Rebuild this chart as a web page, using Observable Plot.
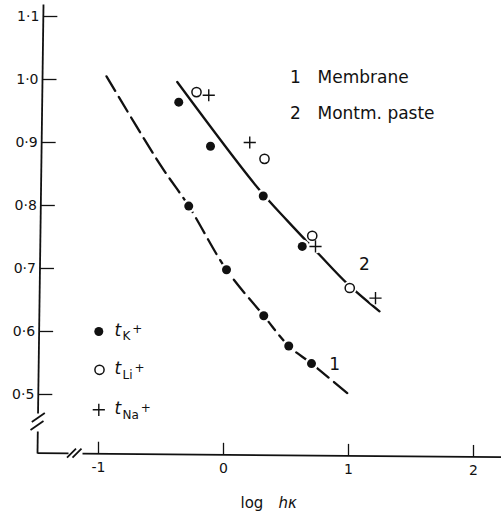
<!DOCTYPE html>
<html><head><meta charset="utf-8">
<script src="https://cdn.jsdelivr.net/npm/d3@7"></script>
<script src="https://cdn.jsdelivr.net/npm/@observablehq/plot@0.6"></script>
<style>
body{margin:0;background:#fff}
g[aria-label="legend-text"] text{letter-spacing:2px}
g[aria-label="axis-label"] text{letter-spacing:1.5px}
</style>
</head><body><div id="chart"></div>
<script>
// ---- data ----
const yTicks = [0.5, 0.6, 0.7, 0.8, 0.9, 1.0, 1.1];
const yTickLabels = ["0·5", "0·6", "0·7", "0·8", "0·9", "1·0", "1·1"];
const xTicks = [-1, 0, 1, 2];
const xTickLabels = ["-1", "0", "1", "2"];

// curve 1 (membrane, dashed) and curve 2 (montm. paste, solid)
const membraneLine = [
  {x: -0.936, y: 1.005}, {x: -0.504, y: 0.864}, {x: -0.278, y: 0.799},
  {x: 0.024, y: 0.698}, {x: 0.322, y: 0.625}, {x: 0.522, y: 0.577},
  {x: 0.704, y: 0.549}, {x: 1.016, y: 0.498}
];
const pasteLine = [
  {x: -0.370, y: 0.996}, {x: 0.270, y: 0.829}, {x: 0.510, y: 0.776},
  {x: 0.762, y: 0.723}, {x: 0.990, y: 0.676}, {x: 1.248, y: 0.632}
];

// t_K+ (filled circles)
const tKx = [-0.278, 0.024, 0.322, 0.522, 0.704, -0.358, -0.104, 0.318, 0.630];
const tKy = [0.799, 0.698, 0.625, 0.577, 0.549, 0.964, 0.894, 0.815, 0.735];
// t_Li+ (open circles)
const tLix = [-0.216, 0.328, 0.710, 1.010];
const tLiy = [0.980, 0.874, 0.752, 0.669];
// t_Na+ (plus)
const tNax = [-0.118, 0.210, 0.736, 1.216];
const tNay = [0.975, 0.900, 0.735, 0.653];

const curveLabels = [{label: "1", x: 0.89, y: 0.548}, {label: "2", x: 1.128, y: 0.706}];
const curveNames = [{num: "1", name: "Membrane"}, {num: "2", name: "Montm. paste"}];
const legendIons = ["K", "Li", "Na"];

// ---- layout ----
const W = 501, H = 515;
const xDomain = [-1.784, 2.224];
const yDomain = [0.3079, 1.1254];
const px2x = px => xDomain[0] + px * (xDomain[1] - xDomain[0]) / W;
const py2y = py => yDomain[1] - py * (yDomain[1] - yDomain[0]) / H;
const x2px = v => (v - xDomain[0]) * W / (xDomain[1] - xDomain[0]);
const y2py = v => (yDomain[1] - v) * H / (yDomain[1] - yDomain[0]);
// slight tilt of the scanned axes
const axisLeftAt = py => 43 - 6 * (py - 4) / 449;
const baseAt = px => 452.7 + (px - 37) * 4 / 464;

const zip = (xs, ys) => xs.map((x, i) => ({x, y: ys[i]}));
const K = zip(tKx, tKy), Li = zip(tLix, tLiy), Na = zip(tNax, tNay);
const allPts = [...K, ...Li, ...Na];

const ink = "#111";
const font = "DejaVu Sans, sans-serif";

const ySegs = [[4, 413], [431, 453]];
const xSegs = [[37, 68], [82, 501]];
const yBreaks = [[37.8, 417], [36.5, 425]];
const xBreaks = [[71, 452.7], [76.5, 452.7]];

// subscript widths for placing the superscript "+"
const ctx = document.createElement("canvas").getContext("2d");
ctx.font = "12px 'DejaVu Sans'";
const subW = s => ctx.measureText(s).width;

const legendRowsPy = [331, 369.3, 409.3];
const legendRows = legendIons.map((ion, i) => ({ion, py: legendRowsPy[i]}));

const chart = Plot.plot({
  width: W, height: H,
  marginLeft: 0, marginRight: 0, marginTop: 0, marginBottom: 0,
  x: {domain: xDomain, axis: null},
  y: {domain: yDomain, axis: null},
  style: {background: "#fff", fontFamily: font, color: ink},
  marks: [
    // axes
    Plot.link(ySegs, {x1: d => px2x(axisLeftAt(d[0])), y1: d => py2y(d[0]), x2: d => px2x(axisLeftAt(d[1])), y2: d => py2y(d[1]), stroke: ink, strokeWidth: 1.8}),
    Plot.link(xSegs, {x1: d => px2x(d[0]), y1: d => py2y(baseAt(d[0])), x2: d => px2x(d[1]), y2: d => py2y(baseAt(d[1])), stroke: ink, strokeWidth: 1.8}),
    Plot.link(yBreaks, {x1: d => px2x(d[0] - 6.5), y1: d => py2y(d[1] + 4.5), x2: d => px2x(d[0] + 6.5), y2: d => py2y(d[1] - 4.5), stroke: ink, strokeWidth: 1.8}),
    Plot.link(xBreaks, {x1: d => px2x(d[0] - 4.5), y1: d => py2y(d[1] + 4.5), x2: d => px2x(d[0] + 4.5), y2: d => py2y(d[1] - 4.5), stroke: ink, strokeWidth: 1.8}),
    Plot.link(yTicks, {x1: v => px2x(axisLeftAt(y2py(v))), x2: v => px2x(axisLeftAt(y2py(v)) + 14), y1: v => v, y2: v => v, stroke: ink, strokeWidth: 1.3}),
    Plot.text(yTicks, {x: v => px2x(axisLeftAt(y2py(v)) - 4), y: v => v, text: (v, i) => yTickLabels[i], textAnchor: "end", fontSize: 14, fill: ink}),
    Plot.link(xTicks, {x1: v => v, x2: v => v, y1: v => py2y(baseAt(x2px(v))), y2: v => py2y(baseAt(x2px(v)) - 12), stroke: ink, strokeWidth: 1.3}),
    Plot.text(xTicks, {x: v => v, y: v => py2y(baseAt(x2px(v)) + 14), text: (v, i) => xTickLabels[i], fontSize: 14, fill: ink}),
    Plot.text(["log"], {x: () => px2x(240), y: () => py2y(503), text: d => d, textAnchor: "start", fontSize: 15, fill: ink, ariaLabel: "axis-label"}),
    Plot.text(["hκ"], {x: () => px2x(278), y: () => py2y(503), text: d => d, textAnchor: "start", fontSize: 15, fontStyle: "italic", fill: ink, ariaLabel: "axis-label"}),

    // curves
    Plot.line(membraneLine, {x: "x", y: "y", curve: "catmull-rom", stroke: ink, strokeWidth: 2.3, strokeDasharray: "17,7"}),
    Plot.line(pasteLine, {x: "x", y: "y", curve: "catmull-rom", stroke: ink, strokeWidth: 2.3}),
    // white halos breaking the lines at the points
    Plot.dot(allPts, {x: "x", y: "y", r: 7, fill: "#fff", stroke: "none"}),
    // points
    Plot.dot(K, {x: "x", y: "y", r: 4.5, fill: ink, stroke: "none"}),
    Plot.dot(Li, {x: "x", y: "y", r: 4.6, fill: "#fff", stroke: ink, strokeWidth: 1.5}),
    Plot.dot(Na, {x: "x", y: "y", r: 4, symbol: "plus", stroke: ink, strokeWidth: 1.4}),

    // curve labels
    Plot.text(curveLabels, {x: "x", y: "y", text: "label", fontSize: 17, fill: ink}),

    // top legend
    Plot.text(curveNames, {x: () => px2x(295), y: (d, i) => py2y(77 + 36 * i), text: "num", fontSize: 17, fill: ink}),
    Plot.text(curveNames, {x: () => px2x(317), y: (d, i) => py2y(77 + 36 * i), text: "name", textAnchor: "start", fontSize: 17, fill: ink, ariaLabel: "legend-text"}),

    // symbol legend
    Plot.dot([legendRows[0]], {x: () => px2x(98.3), y: d => py2y(d.py), r: 4.5, fill: ink, stroke: "none"}),
    Plot.dot([legendRows[1]], {x: () => px2x(99), y: d => py2y(d.py), r: 4.6, fill: "#fff", stroke: ink, strokeWidth: 1.5}),
    Plot.dot([legendRows[2]], {x: () => px2x(98.3), y: d => py2y(d.py), r: 4, symbol: "plus", stroke: ink, strokeWidth: 1.4}),
    Plot.text(legendRows, {x: () => px2x(114), y: d => py2y(d.py - 1), text: () => "t", textAnchor: "start", fontSize: 17, fontStyle: "italic", fill: ink}),
    Plot.text(legendRows, {x: () => px2x(122), y: d => py2y(d.py + 5), text: "ion", textAnchor: "start", fontSize: 12, fill: ink}),
    Plot.text(legendRows, {x: d => px2x(122 + subW(d.ion) + 2), y: d => py2y(d.py - 2), text: () => "+", textAnchor: "start", fontSize: 12, fill: ink})
  ]
});
document.getElementById("chart").appendChild(chart);
</script>
</body></html>
